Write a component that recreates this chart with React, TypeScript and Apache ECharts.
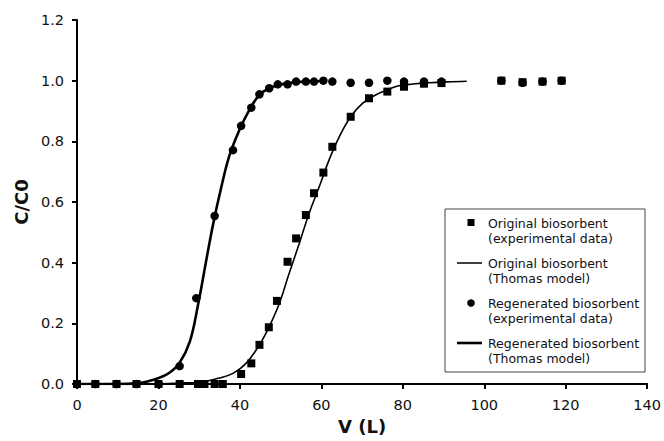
import React, { useEffect, useRef } from "react";
import * as echarts from "echarts";

// Original biosorbent (experimental data)
const originalV = [0, 4.5, 9.7, 14.6, 20, 25.2, 29.7, 31.3, 33.8, 35.8, 40.3, 42.8, 44.8, 47.1, 49.1, 51.7, 53.8, 56.2, 58.2, 60.5, 62.7, 67.2, 71.7, 76.2, 80.3, 85.2, 89.5, 104.2, 109.4, 114.3, 119.0];
const originalC = [0, 0, 0, 0, 0, 0, 0, 0, 0, 0, 0.033, 0.068, 0.129, 0.187, 0.274, 0.403, 0.48, 0.557, 0.629, 0.697, 0.782, 0.881, 0.942, 0.964, 0.98, 0.99, 0.992, 1.0, 0.995, 0.997, 1.0];

// Regenerated biosorbent (experimental data)
const regenV = [0, 4.5, 9.7, 14.6, 20.1, 25.2, 29.3, 33.8, 38.3, 40.3, 42.8, 44.8, 47.2, 49.3, 51.7, 53.8, 56.2, 58.2, 60.5, 62.7, 67.2, 71.7, 76.2, 80.3, 85.2, 89.5, 104.2, 109.4, 114.3, 119.0];
const regenC = [0, 0, 0, 0, 0, 0.059, 0.283, 0.554, 0.771, 0.851, 0.911, 0.955, 0.975, 0.988, 0.988, 0.997, 0.997, 0.997, 1.0, 0.997, 0.993, 0.993, 1.0, 0.997, 0.997, 0.997, 1.0, 0.993, 0.997, 1.0];

// Original biosorbent (Thomas model)
const origModelV = [15, 20, 25, 30.1, 35, 38.3, 41.5, 44.8, 47.2, 49.7, 52.1, 54.6, 57, 59.5, 61.9, 64.4, 67.2, 70.1, 73.3, 76.6, 79, 82.5, 86.4, 91, 95.7];
const origModelC = [0, 0.001, 0.003, 0.006, 0.02, 0.035, 0.068, 0.129, 0.189, 0.266, 0.365, 0.464, 0.563, 0.651, 0.739, 0.815, 0.881, 0.925, 0.953, 0.972, 0.983, 0.989, 0.993, 0.996, 0.998];

// Regenerated biosorbent (Thomas model)
const regenModelV = [0, 5, 10, 15, 17.5, 20.3, 22.8, 25.2, 27.7, 29.7, 31.7, 33.5, 35.4, 37.4, 39.9, 42.3, 44.8, 47.2, 49.7, 52, 55, 58, 61];
const regenModelC = [0, 0, 0, 0.003, 0.009, 0.021, 0.038, 0.07, 0.14, 0.26, 0.405, 0.532, 0.647, 0.752, 0.838, 0.903, 0.953, 0.975, 0.986, 0.992, 0.996, 0.998, 0.999];

const xTicks = { min: 0, max: 140, interval: 20 };
const yTicks = { min: 0, max: 1.2, interval: 0.2 };

const legendLines = [
  ["Original biosorbent", "(experimental data)"],
  ["Original biosorbent", "(Thomas model)"],
  ["Regenerated biosorbent", "(experimental data)"],
  ["Regenerated biosorbent", "(Thomas model)"],
];

const zip = (a: number[], b: number[]) => a.map((v, i) => [v, b[i]]);

export default function App() {
  const ref = useRef<HTMLDivElement>(null);
  useEffect(() => {
    if (!ref.current) return;
    const chart = echarts.init(ref.current, undefined, { renderer: "svg" });
    const font = "DejaVu Sans";
    const legendX = 445;
    const legendY = 209;
    const textX = 488;
    const rows = [
      [223, 238],
      [263, 278],
      [303, 318],
      [343, 358],
    ];
    const graphic: any[] = [
      {
        type: "rect",
        shape: { x: legendX, y: legendY, width: 200, height: 163 },
        style: { fill: "#fff", stroke: "#444", lineWidth: 1 },
        z: 100,
      },
      { type: "rect", shape: { x: 467.5, y: 219, width: 7, height: 7 }, style: { fill: "#000" }, z: 101 },
      { type: "line", shape: { x1: 457, y1: 263, x2: 482, y2: 263 }, style: { stroke: "#000", lineWidth: 1.5 }, z: 101 },
      { type: "circle", shape: { cx: 471, cy: 303, r: 3.8 }, style: { fill: "#000" }, z: 101 },
      { type: "line", shape: { x1: 457, y1: 343, x2: 482, y2: 343 }, style: { stroke: "#000", lineWidth: 2.6 }, z: 101 },
    ];
    legendLines.forEach((pair, i) => {
      pair.forEach((t, j) => {
        graphic.push({
          type: "text",
          x: textX,
          y: rows[i][j],
          z: 101,
          style: {
            text: t,
            fill: "#111",
            font: `12.5px "${font}"`,
            verticalAlign: "middle",
            align: "left",
          },
        });
      });
    });

    chart.setOption({
      animation: false,
      backgroundColor: "#fff",
      grid: { left: 77, right: 15, top: 20, bottom: 57, containLabel: false },
      xAxis: {
        type: "value",
        min: xTicks.min,
        max: xTicks.max,
        interval: xTicks.interval,
        name: "V (L)",
        nameLocation: "middle",
        nameGap: 33,
        nameTextStyle: { fontFamily: font, fontWeight: "bold", fontSize: 18, color: "#111" },
        axisLine: { show: true, onZero: false, lineStyle: { color: "#000", width: 2 } },
        axisTick: { show: true, inside: false, length: 5, lineStyle: { color: "#000", width: 2 } },
        axisLabel: { fontFamily: font, fontSize: 14.5, color: "#111", margin: 13 },
        splitLine: { show: false },
      },
      yAxis: {
        type: "value",
        min: yTicks.min,
        max: yTicks.max,
        interval: yTicks.interval,
        name: "C/C0",
        nameLocation: "middle",
        nameGap: 47,
        nameRotate: 90,
        nameTextStyle: { fontFamily: font, fontWeight: "bold", fontSize: 18, color: "#111" },
        axisLine: { show: true, onZero: false, lineStyle: { color: "#000", width: 2 } },
        axisTick: { show: true, inside: false, length: 5, lineStyle: { color: "#000", width: 2 } },
        axisLabel: {
          fontFamily: font,
          fontSize: 14.5,
          color: "#111",
          margin: 13,
          formatter: (v: number) => v.toFixed(1),
        },
        splitLine: { show: false },
      },
      series: [
        {
          name: "Original biosorbent (Thomas model)",
          type: "line",
          data: zip(origModelV, origModelC),
          smooth: 0.4,
          showSymbol: false,
          symbol: "none",
          lineStyle: { color: "#000", width: 1.6 },
          z: 2,
        },
        {
          name: "Regenerated biosorbent (Thomas model)",
          type: "line",
          data: zip(regenModelV, regenModelC),
          smooth: 0.4,
          showSymbol: false,
          symbol: "none",
          lineStyle: { color: "#000", width: 2.6 },
          z: 2,
        },
        {
          name: "Original biosorbent (experimental data)",
          type: "scatter",
          data: zip(originalV, originalC),
          symbol: "rect",
          symbolSize: 8,
          itemStyle: { color: "#000", opacity: 1 },
          z: 3,
        },
        {
          name: "Regenerated biosorbent (experimental data)",
          type: "scatter",
          data: zip(regenV, regenC),
          symbol: "circle",
          symbolSize: 8.5,
          itemStyle: { color: "#000", opacity: 1 },
          z: 4,
        },
      ],
      graphic,
    });
    return () => chart.dispose();
  }, []);
  return <div ref={ref} style={{ width: 664, height: 441, position: "absolute", left: 0, top: 0 }} />;
}
